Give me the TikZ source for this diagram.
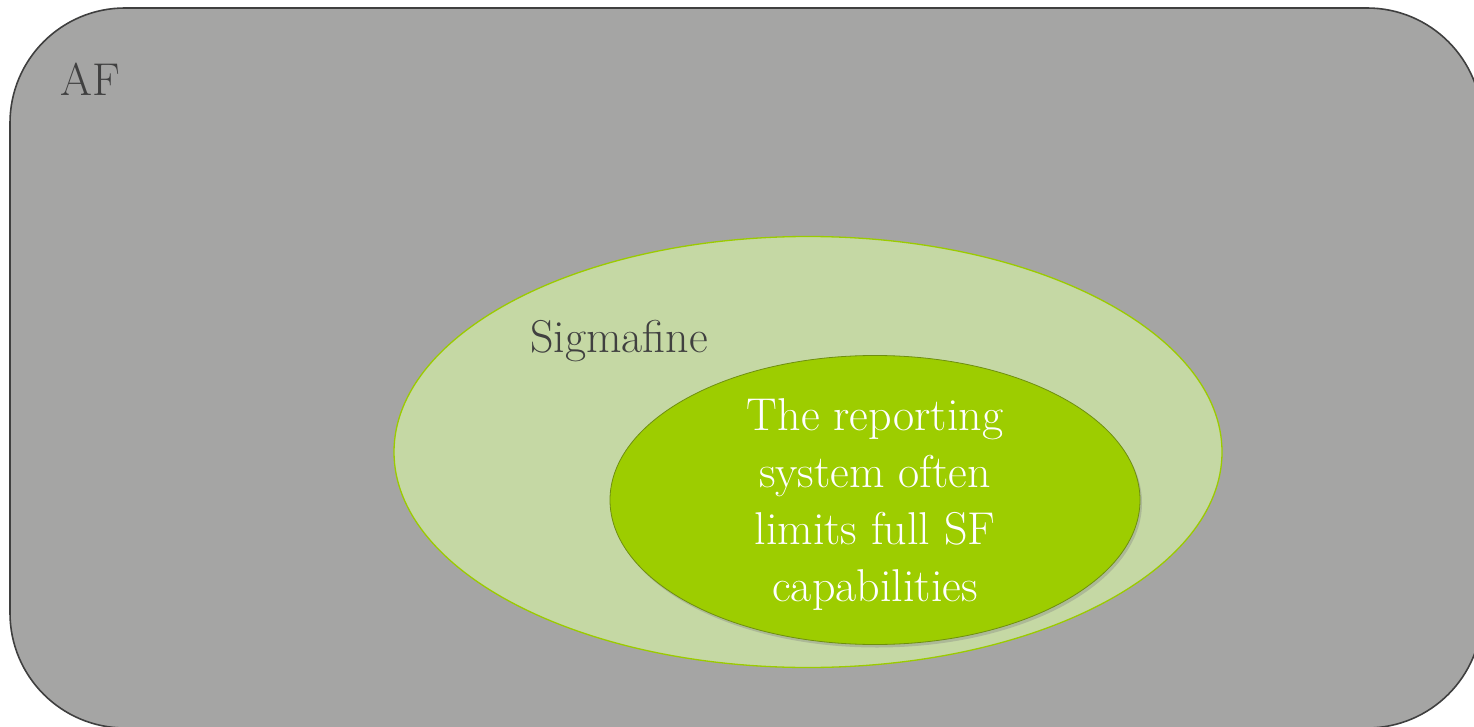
\documentclass[tikz,border=0pt]{standalone}
\usetikzlibrary{shapes.geometric,shadows}
\definecolor{bggray}{HTML}{A5A5A4}
\definecolor{framegray}{HTML}{3F3F3F}
\definecolor{lightgreen}{HTML}{C5D8A4}
\definecolor{limegreen}{HTML}{9BCB00}
\definecolor{innergreen}{HTML}{9DCD00}
\definecolor{inneredge}{HTML}{6E8F10}
\definecolor{textgray}{HTML}{404040}
\tikzset{
  framebox/.style={draw=framegray, line width=1.6pt, fill=bggray, rounded corners=115pt, inner sep=0pt},
  outerell/.style={ellipse, draw=limegreen, line width=1.3pt, fill=lightgreen, inner sep=0pt},
  innerell/.style={ellipse, draw=inneredge, line width=0.8pt, fill=innergreen, inner sep=0pt,
    drop shadow={opacity=0.35, shadow xshift=2pt, shadow yshift=-3pt}},
  darklabel/.style={text=textgray, inner sep=0pt, font=\fontsize{46}{54}\selectfont},
  whitelabel/.style={text=white, inner sep=0pt, align=center, font=\fontsize{46}{57}\selectfont}
}
\begin{document}
\begin{tikzpicture}[x=1pt,y=-1pt]
\useasboundingbox (0,0) rectangle (1474,727);
\clip (0,0) rectangle (1474,727);
\node[framebox, minimum width=1472pt, minimum height=720pt] (af) at (746,368) {};
\node[darklabel, anchor=base west] (aflabel) at (60,96) {AF};
\node[outerell, minimum width=828pt, minimum height=431pt] (sigma) at (808,452) {};
\node[darklabel, anchor=base west] (sigmalabel) at (530,352) {Sigmafine};
\node[innerell, minimum width=530pt, minimum height=289pt] (report) at (875,500) {};
\node[whitelabel] (reporttext) at (875,505) {The reporting\\system often\\limits full SF\\capabilities};
\end{tikzpicture}
\end{document}
